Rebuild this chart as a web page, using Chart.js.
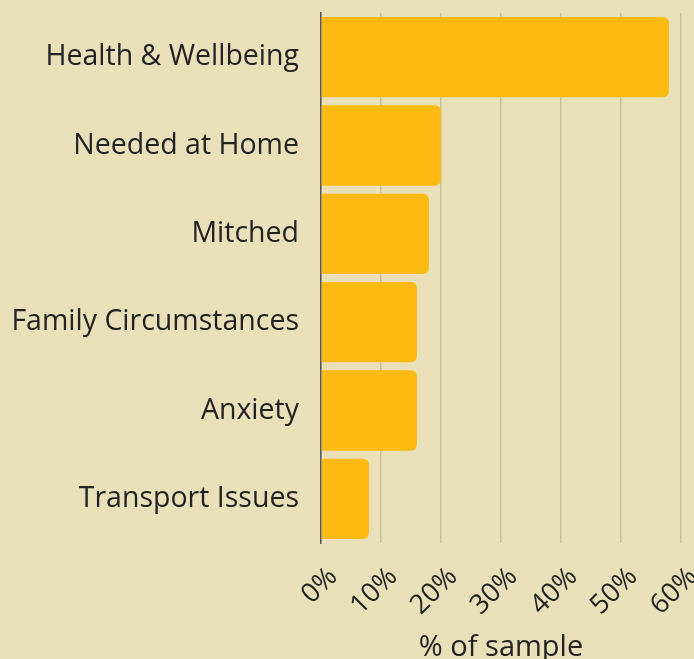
<!DOCTYPE html>
<html>
<head>
<meta charset="utf-8">
<script src="https://cdn.jsdelivr.net/npm/chart.js@4/dist/chart.umd.min.js"></script>
<style>
  html, body { margin: 0; padding: 0; background: #e9e0b9; }
  #wrap { width: 694px; height: 659px; }
</style>
</head>
<body>
<div id="wrap"><canvas id="chart"></canvas></div>
<script>
// categorías y valores (% de la muestra)
const categories = ['Health & Wellbeing', 'Needed at Home', 'Mitched', 'Family Circumstances', 'Anxiety', 'Transport Issues'];
const values = [58, 20, 18, 16, 16, 8];
const tickValues = [0, 10, 20, 30, 40, 50, 60];
const axisTitle = '% of sample';

const fontFamily = "'Open Sans', sans-serif";
const textColor = '#222222';

new Chart(document.getElementById('chart'), {
    type: 'bar',
    data: {
        labels: categories,
        datasets: [{
            data: values,
            backgroundColor: '#fbba12',
            borderRadius: 6,
            barPercentage: 0.91,
            categoryPercentage: 1
        }]
    },
    options: {
        indexAxis: 'y',
        responsive: true,
        maintainAspectRatio: false,
        animation: false,
        layout: { padding: { top: 13, right: 13, left: 0, bottom: 0 } },
        plugins: {
            legend: { display: false },
            tooltip: { enabled: false }
        },
        scales: {
            x: {
                min: 0,
                max: 60,
                afterBuildTicks: axis => { axis.ticks = tickValues.map(v => ({ value: v })); },
                afterFit: axis => {
                    axis.height = 116;
                    axis.paddingLeft = 0;
                    axis.paddingRight = 0;
                },
                grid: { color: '#c9bf9b', lineWidth: 1.5, drawTicks: false },
                border: { display: false },
                ticks: {
                    callback: v => v + '%',
                    minRotation: 45,
                    maxRotation: 45,
                    padding: 18,
                    labelOffset: 12,
                    color: textColor,
                    font: { family: fontFamily, size: 27 }
                },
                title: {
                    display: true,
                    text: axisTitle,
                    color: textColor,
                    padding: { top: 4, bottom: -6 },
                    font: { family: fontFamily, size: 29 }
                }
            },
            y: {
                afterFit: axis => {
                    axis.width = 321;
                    axis.paddingTop = 0;
                    axis.paddingBottom = 0;
                },
                grid: { display: false, drawTicks: false },
                border: { display: true, color: '#555555', width: 1.5 },
                ticks: {
                    padding: 22,
                    color: textColor,
                    font: { family: fontFamily, size: 28.5 }
                }
            }
        }
    }
});
</script>
</body>
</html>
